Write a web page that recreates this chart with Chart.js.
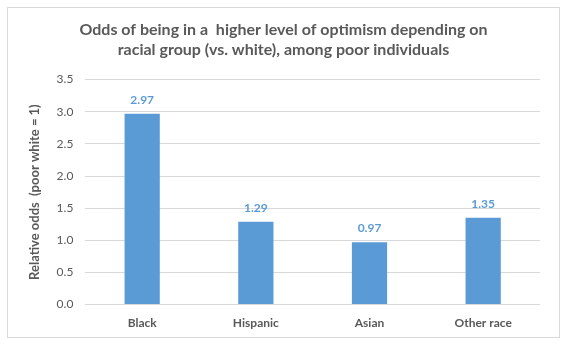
<!DOCTYPE html>
<html>
<head>
<meta charset="utf-8">
<script src="https://cdn.jsdelivr.net/npm/chart.js@4"></script>
<style>
  body { margin: 0; background: #fff; }
</style>
</head>
<body>
<canvas id="chart" width="567" height="348"></canvas>
<script>
const categories = ['Black', 'Hispanic', 'Asian', 'Other race'];
const oddsValues = [2.97, 1.29, 0.97, 1.35];
const titleLines = ['Odds of being in a  higher level of optimism depending on', 'racial group (vs. white), among poor individuals'];
const yAxisTitle = 'Relative odds  (poor white = 1)';

const FONT = 'Lato, "Open Sans", sans-serif';
const GREY = '#595959';
const BLUE = '#5b9bd5';

// outer frame like the Excel chart area
const framePlugin = {
  id: 'frame',
  beforeDraw(chart) {
    const c = chart.ctx;
    c.save();
    c.fillStyle = '#fff';
    c.fillRect(0, 0, chart.width, chart.height);
    c.strokeStyle = '#d9d9d9';
    c.lineWidth = 1;
    c.strokeRect(7.5, 7.5, 552, 330);
    c.restore();
  }
};

// value labels above bars
const valueLabels = {
  id: 'valueLabels',
  afterDatasetsDraw(chart) {
    const c = chart.ctx;
    const meta = chart.getDatasetMeta(0);
    c.save();
    c.font = 'bold 12px ' + FONT;
    c.fillStyle = BLUE;
    c.textAlign = 'center';
    c.textBaseline = 'bottom';
    meta.data.forEach((bar, i) => {
      c.fillText(oddsValues[i].toFixed(2), bar.x, bar.y - 8);
    });
    c.restore();
  }
};

new Chart(document.getElementById('chart'), {
  type: 'bar',
  data: {
    labels: categories,
    datasets: [{
      data: oddsValues,
      backgroundColor: BLUE,
      barPercentage: 0.62,
      categoryPercentage: 0.5
    }]
  },
  options: {
    responsive: false,
    animation: false,
    layout: { padding: { left: 27, right: 27, top: 0, bottom: 15 } },
    plugins: {
      legend: { display: false },
      tooltip: { enabled: false },
      title: {
        display: true,
        text: titleLines,
        color: GREY,
        font: { family: FONT, size: 16, weight: 'bold', lineHeight: 1.3 },
        padding: { top: 19, bottom: 19 }
      }
    },
    scales: {
      x: {
        grid: { display: false },
        border: { display: false },
        ticks: { color: GREY, font: { family: FONT, size: 12, weight: 'bold' }, padding: 3 }
      },
      y: {
        min: 0,
        max: 3.5,
        ticks: {
          stepSize: 0.5,
          color: GREY,
          padding: 12,
          font: { family: FONT, size: 12 },
          callback: v => v.toFixed(1)
        },
        grid: { color: '#d9d9d9', drawTicks: false },
        border: { display: false },
        title: {
          display: true,
          text: yAxisTitle,
          color: GREY,
          font: { family: FONT, size: 13, weight: 'bold' },
          padding: { top: 0, bottom: 2 }
        }
      }
    }
  },
  plugins: [framePlugin, valueLabels]
});
</script>
</body>
</html>
